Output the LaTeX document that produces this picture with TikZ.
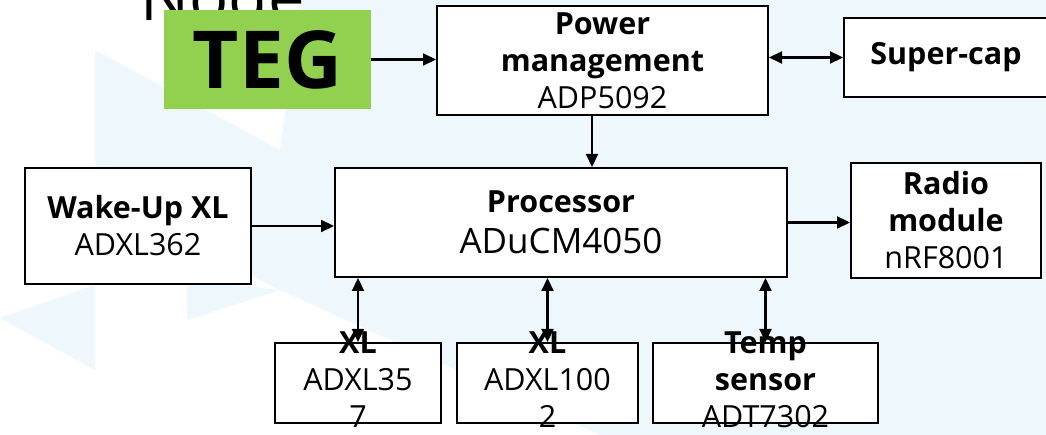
\documentclass[tikz,border=0pt]{standalone}
\usepackage{fontspec}
\setmainfont{Open Sans}
\usetikzlibrary{arrows.meta}
\definecolor{teggreen}{HTML}{92D050}
\definecolor{bgblue}{HTML}{EEF7FC}
\begin{document}
\begin{tikzpicture}[x=1pt, y=-1pt,
		blk/.style={draw, line width=2pt, fill=white, inner sep=0pt},
		lbl/.style={align=center, inner sep=0pt, font=\fontsize{30.5}{37}\selectfont},
		arr/.style={line width=2.2pt, -{Triangle[length=13pt, width=12pt]}},
		darr/.style={line width=2.2pt, {Triangle[length=13pt, width=12pt]}-{Triangle[length=13pt, width=12pt]}}]
			\useasboundingbox (0,0) rectangle (1046,435);
			\fill[white] (0,0) rectangle (1046,435);
			\fill[bgblue] (300,0) -- (1046,0) -- (1046,435) -- (600,435) -- (280,290) -- (280,150) -- cycle;
			\fill[bgblue] (95,50) -- (280,150) -- (280,290) -- (95,200) -- cycle;
			\fill[bgblue] (0,318) -- (95,285) -- (95,370) -- cycle;
			\fill[bgblue] (187,280) -- (280,290) -- (187,320) -- cycle;
			\node[anchor=base west, inner sep=0pt, font=\fontsize{65}{65}\selectfont] (title) at (140,21) {Node};
			\node[fill=teggreen, minimum width=207pt, minimum height=99pt, inner sep=0pt,
				font=\fontsize{80}{80}\selectfont\bfseries] (teg) at (267.5,59.5) {TEG};
			\node[blk, minimum width=331pt, minimum height=109pt] (pm) at (602.5,60.5) {};
			\node[blk, minimum width=204pt, minimum height=79pt] (cap) at (946,57.5) {};
			\node[blk, minimum width=226pt, minimum height=116pt] (wake) at (138,226) {};
			\node[blk, minimum width=452pt, minimum height=109pt] (proc) at (561,222.5) {};
			\node[blk, minimum width=190pt, minimum height=115pt] (radio) at (946,220.5) {};
			\foreach \n/\x/\w in {xla/358/166, xlb/547.5/181, temp/765.5/225}{
				\node[blk, minimum width=\w pt, minimum height=80pt] (\n) at (\x,383) {};
				\draw[darr] (\n.north |- proc.south) -- (\n.north);
			}
			\draw[arr] (teg.east) -- (teg.east -| pm.west);
			\draw[darr] (cap.west -| pm.east) -- (cap.west);
			\draw[arr] ([xshift=-10.5pt]pm.south) -- ([xshift=-10.5pt]pm.south |- proc.north);
			\draw[arr] (wake.east) -- (wake.east -| proc.west);
			\draw[arr] (proc.east) -- (proc.east -| radio.west);
			\node[lbl] at (pm) {\textbf{Power}\\\textbf{management}\\ADP5092};
			\node[lbl] at (cap) {\textbf{Super-cap}};
			\node[lbl] at (wake) {\textbf{Wake-Up XL}\\ADXL362};
			\node[lbl] at (proc) {\textbf{Processor}\\[4pt]{\fontsize{35}{40}\selectfont ADuCM4050}};
			\node[lbl] at (radio) {\textbf{Radio}\\\textbf{module}\\nRF8001};
			\node[lbl, yshift=3pt] at (xla) {\textbf{XL}\\ADXL35\\7};
			\node[lbl, yshift=3pt] at (xlb) {\textbf{XL}\\ADXL100\\2};
			\node[lbl, yshift=3pt] at (temp) {\textbf{Temp}\\\textbf{sensor}\\ADT7302};
		\end{tikzpicture}
\end{document}
